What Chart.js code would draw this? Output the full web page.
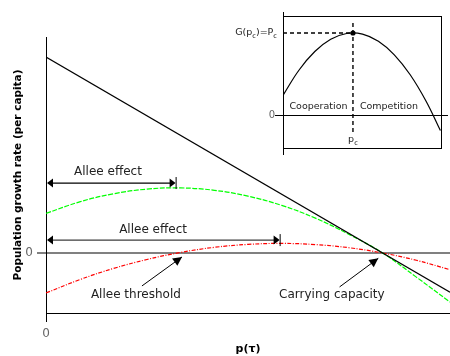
<!DOCTYPE html>
<html>
<head>
<meta charset="utf-8">
<script src="https://cdn.jsdelivr.net/npm/chart.js@4.4.1/dist/chart.umd.min.js"></script>
<style>
  html, body { margin: 0; padding: 0; background: #fff; }
  #wrap { position: relative; width: 450px; height: 356px; background: #fff; }
  #main { position: absolute; left: 0; top: 0; }
  #inset { position: absolute; left: 225px; top: 0; }
</style>
</head>
<body>
<div id="wrap">
  <canvas id="main" width="450" height="356"></canvas>
  <canvas id="inset" width="225" height="160"></canvas>
</div>
<script>
// ---- data -------------------------------------------------------------
// population density p(τ), with the carrying capacity at 1
const density = [0, 0.1, 0.2, 0.3, 0.4, 0.5, 0.6, 0.7, 0.8, 0.9, 1.0, 1.1, 1.2];
// logistic growth: straight line from r at p=0 down through the carrying capacity
const logisticEnds = [0, 1.2];
const logisticRate = [1.0, -0.2];
// weak Allee effect (green): positive at low density, peaks, then falls
const weakAlleeRate = [0.202, 0.261, 0.302, 0.326, 0.332, 0.320, 0.290, 0.243, 0.178, 0.095, 0.0, -0.123, -0.250];
// strong Allee effect (red): negative below the Allee threshold
const strongAlleeRate = [-0.204, -0.136, -0.079, -0.033, 0.003, 0.029, 0.044, 0.049, 0.043, 0.027, 0.0, -0.037, -0.085];
const xTickValues = [0];
const yTickValues = [0];

// inset: cooperation/competition trade-off G(p)
const insetDensity = [0, 0.1, 0.2, 0.3, 0.4, 0.5, 0.6, 0.7, 0.8, 0.9, 0.99];
const insetGain = [0.239, 0.546, 0.774, 0.923, 0.994, 0.986, 0.899, 0.734, 0.491, 0.168, -0.189];
const insetPeakX = 0.44;
const insetPeakY = 1.0;

// ---- helpers ----------------------------------------------------------
const FAMILY = '"DejaVu Sans", sans-serif';

function arrowHead(ctx, x0, y0, x1, y1, len, half) {
  const a = Math.atan2(y1 - y0, x1 - x0);
  const c = Math.cos(a), s = Math.sin(a);
  ctx.beginPath();
  ctx.moveTo(x1, y1);
  ctx.lineTo(x1 - len * c + half * s, y1 - len * s - half * c);
  ctx.lineTo(x1 - len * c - half * s, y1 - len * s + half * c);
  ctx.closePath();
  ctx.fill();
}

// draws a sequence of text runs, some of them as smaller lowered subscripts
function drawRuns(ctx, runs, x, y, align, size) {
  const widths = runs.map(r => {
    ctx.font = (r.sub ? size * 0.7 : size) + 'px ' + FAMILY;
    return ctx.measureText(r.t).width;
  });
  const total = widths.reduce((a, b) => a + b, 0);
  let cx = align === 'right' ? x - total : align === 'center' ? x - total / 2 : x;
  ctx.textAlign = 'left';
  ctx.textBaseline = 'middle';
  runs.forEach((r, i) => {
    ctx.font = (r.sub ? size * 0.7 : size) + 'px ' + FAMILY;
    ctx.fillText(r.t, cx, r.sub ? y + size * 0.3 : y);
    cx += widths[i];
  });
}

// ---- annotations on the main chart -------------------------------------
const spanArrows = [
  { from: 0, to: 0.385, y: 0.357, label: 'Allee effect', lx: 0.184, ly: 0.413, color: '#000' },
  { from: 0, to: 0.694, y: 0.066, label: 'Allee effect', lx: 0.318, ly: 0.117, color: '#3c3c3c' }
];
const pointers = [
  { text: 'Allee threshold', tx: 0.267, ty: -0.214, fx: 0.285, fy: -0.168, px: 0.404, py: -0.020 },
  { text: 'Carrying capacity', tx: 0.849, ty: -0.214, fx: 0.872, fy: -0.173, px: 0.987, py: -0.027 }
];

const annotationPlugin = {
  id: 'growthAnnotations',
  afterDatasetsDraw(chart) {
    const { ctx, scales: { x, y } } = chart;
    ctx.save();
    spanArrows.forEach(a => {
      const x0 = x.getPixelForValue(a.from), x1 = x.getPixelForValue(a.to), yy = y.getPixelForValue(a.y);
      ctx.strokeStyle = a.color; ctx.fillStyle = '#000'; ctx.lineWidth = 1.2;
      ctx.beginPath(); ctx.moveTo(x0 + 2, yy); ctx.lineTo(x1 - 2, yy); ctx.stroke();
      arrowHead(ctx, x1, yy, x0 + 1, yy, 6, 4.5);
      arrowHead(ctx, x0, yy, x1, yy, 6, 4.5);
      ctx.strokeStyle = '#000'; ctx.lineWidth = 1;
      ctx.beginPath(); ctx.moveTo(x1 + 0.5, yy - 6); ctx.lineTo(x1 + 0.5, yy + 6); ctx.stroke();
      ctx.fillStyle = '#222';
      ctx.font = '12px ' + FAMILY; ctx.textAlign = 'center'; ctx.textBaseline = 'middle';
      ctx.fillText(a.label, x.getPixelForValue(a.lx), y.getPixelForValue(a.ly));
    });
    pointers.forEach(p => {
      const fx = x.getPixelForValue(p.fx), fy = y.getPixelForValue(p.fy);
      const px = x.getPixelForValue(p.px), py = y.getPixelForValue(p.py);
      ctx.strokeStyle = '#000'; ctx.fillStyle = '#000'; ctx.lineWidth = 1;
      ctx.beginPath(); ctx.moveTo(fx, fy); ctx.lineTo(px, py); ctx.stroke();
      arrowHead(ctx, fx, fy, px, py, 9, 4.5);
      ctx.fillStyle = '#222';
      ctx.font = '12px ' + FAMILY; ctx.textAlign = 'center'; ctx.textBaseline = 'middle';
      ctx.fillText(p.text, x.getPixelForValue(p.tx), y.getPixelForValue(p.ty));
    });
    ctx.restore();
  }
};

// ---- main chart ---------------------------------------------------------
const toPoints = (xs, ys) => xs.map((v, i) => ({ x: v, y: ys[i] }));

new Chart(document.getElementById('main'), {
  type: 'line',
  data: {
    datasets: [
      { label: 'Logistic', data: toPoints(logisticEnds, logisticRate), borderColor: '#000', borderWidth: 1.2, pointRadius: 0, tension: 0 },
      { label: 'Weak Allee effect', data: toPoints(density, weakAlleeRate), borderColor: '#00ff00', borderWidth: 1.2, borderDash: [5, 1.5], pointRadius: 0, tension: 0.4 },
      { label: 'Strong Allee effect', data: toPoints(density, strongAlleeRate), borderColor: '#ff0000', borderWidth: 1.2, borderDash: [4, 1.5, 1, 1.5], pointRadius: 0, tension: 0.4 }
    ]
  },
  options: {
    responsive: false,
    animation: false,
    events: [],
    layout: { padding: { top: 37, right: 0, bottom: 0, left: 0 } },
    plugins: { legend: { display: false }, tooltip: { enabled: false } },
    scales: {
      x: {
        type: 'linear', min: 0, max: 1.2,
        afterBuildTicks: s => { s.ticks = xTickValues.map(v => ({ value: v })); },
        afterFit: s => { s.height = 43; },
        border: { color: '#000', width: 1 },
        grid: { drawOnChartArea: false, color: '#000', tickColor: '#000', tickLength: 9 },
        ticks: { color: '#666', font: { family: FAMILY, size: 12 }, padding: 5, maxRotation: 0 },
        title: { display: true, text: 'p(τ)', color: '#000', font: { family: FAMILY, size: 11, weight: 'bold' }, padding: { top: 0, bottom: 0 } }
      },
      y: {
        type: 'linear', min: -0.306, max: 1.102,
        afterBuildTicks: s => { s.ticks = yTickValues.map(v => ({ value: v })); },
        afterFit: s => { s.width = 46; },
        border: { color: '#000', width: 1 },
        grid: { color: '#808080', tickColor: '#808080', lineWidth: 2, tickLength: 9 },
        ticks: { color: '#666', font: { family: FAMILY, size: 12 }, padding: 4 },
        title: { display: true, text: 'Population growth rate (per capita)', color: '#000', font: { family: FAMILY, size: 10.5, weight: 'bold' }, padding: { top: 11.5, bottom: 0 } }
      }
    }
  },
  plugins: [annotationPlugin]
});

// ---- inset --------------------------------------------------------------
const insetFrame = {
  id: 'insetFrame',
  beforeDatasetsDraw(chart) {
    const { ctx, chartArea: a, scales: { x, y } } = chart;
    ctx.save();
    ctx.strokeStyle = '#000'; ctx.lineWidth = 1;
    // box
    ctx.strokeRect(a.left + 0.5, a.top + 0.5, a.right - a.left - 1, a.bottom - a.top);
    // vertical axis, running past the box
    ctx.beginPath(); ctx.moveTo(a.left + 0.5, a.top - 4); ctx.lineTo(a.left + 0.5, a.bottom + 7); ctx.stroke();
    // zero line
    const y0 = Math.round(y.getPixelForValue(0)) + 0.5;
    ctx.beginPath(); ctx.moveTo(a.left - 8, y0); ctx.lineTo(a.right + 6, y0); ctx.stroke();
    // dashed guides to the peak
    const pxk = x.getPixelForValue(insetPeakX), pyk = y.getPixelForValue(insetPeakY);
    ctx.setLineDash([4, 3]); ctx.lineWidth = 1.4;
    ctx.beginPath(); ctx.moveTo(a.left, pyk); ctx.lineTo(pxk, pyk); ctx.stroke();
    ctx.beginPath(); ctx.moveTo(pxk, a.top + 7); ctx.lineTo(pxk, y0 + 18); ctx.stroke();
    ctx.setLineDash([]);
    ctx.restore();
  },
  afterDatasetsDraw(chart) {
    const { ctx, chartArea: a, scales: { x, y } } = chart;
    const pxk = x.getPixelForValue(insetPeakX), pyk = y.getPixelForValue(insetPeakY);
    const y0 = y.getPixelForValue(0);
    ctx.save();
    ctx.fillStyle = '#000';
    ctx.beginPath(); ctx.arc(pxk, pyk, 2.6, 0, Math.PI * 2); ctx.fill();
    ctx.fillStyle = '#222';
    drawRuns(ctx, [{ t: 'G(p' }, { t: 'c', sub: true }, { t: ')=P' }, { t: 'c', sub: true }], a.left - 6, pyk, 'right', 9.5);
    drawRuns(ctx, [{ t: 'p' }, { t: 'c', sub: true }], pxk, y0 + 25, 'center', 9.5);
    ctx.font = '9.5px ' + FAMILY; ctx.textBaseline = 'middle';
    ctx.textAlign = 'center';
    ctx.fillText('Cooperation', (a.left + pxk) / 2 + 0.5, y0 - 8);
    ctx.fillText('Competition', pxk + 36, y0 - 8);
    ctx.fillStyle = '#666'; ctx.font = '10px ' + FAMILY; ctx.textAlign = 'right';
    ctx.fillText('0', a.left - 8, y0);
    ctx.restore();
  }
};

new Chart(document.getElementById('inset'), {
  type: 'line',
  data: {
    datasets: [
      { label: 'G(p)', data: toPoints(insetDensity, insetGain), borderColor: '#000', borderWidth: 1.2, pointRadius: 0, tension: 0.4 }
    ]
  },
  options: {
    responsive: false,
    animation: false,
    events: [],
    layout: { padding: { top: 16, right: 8, bottom: 12, left: 58 } },
    plugins: { legend: { display: false }, tooltip: { enabled: false } },
    scales: {
      x: { type: 'linear', min: 0, max: 1, display: false },
      y: { type: 'linear', min: -0.402, max: 1.207, display: false }
    }
  },
  plugins: [insetFrame]
});
</script>
</body>
</html>
